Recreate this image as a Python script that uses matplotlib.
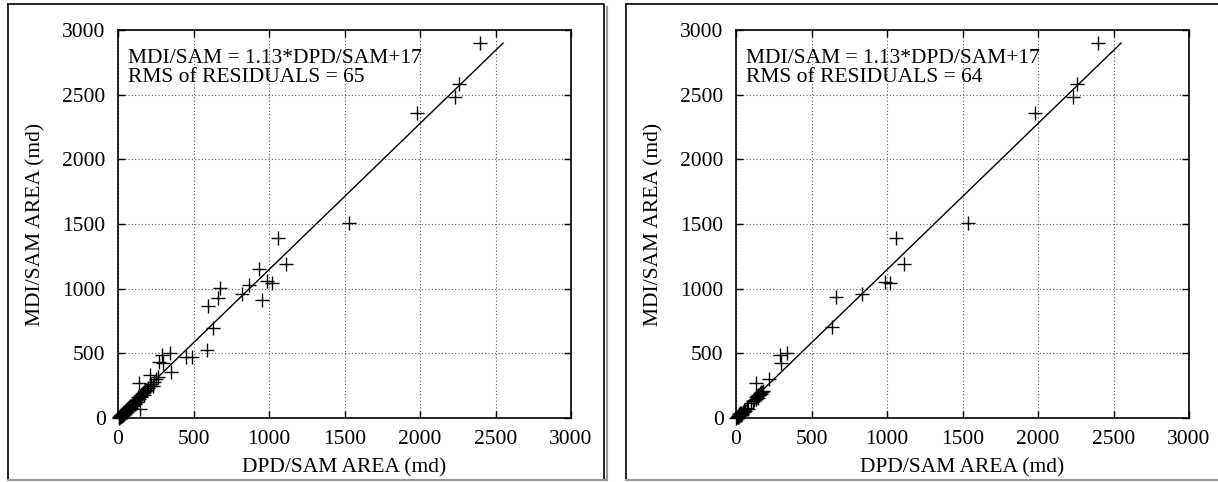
import matplotlib
matplotlib.use("Agg")
import matplotlib.pyplot as plt
from matplotlib.lines import Line2D

plt.rcParams['font.family'] = ['Liberation Serif', 'DejaVu Serif']

# ---- data ----
left_x = [5, 8, 10, 12, 15, 18, 20, 22, 25, 28, 30, 32, 35, 38, 40, 42, 45, 48, 50, 55,
          58, 60, 65, 70, 75, 80, 85, 90, 95, 100, 105, 110, 115, 120, 125, 130, 135, 140,
          145, 150, 155, 160, 165, 170, 175, 180, 190, 200, 210, 220, 230, 240, 250,
          139, 146, 212, 265, 298, 291, 344, 351, 272, 450, 490, 589, 596, 629, 662, 675,
          821, 868, 934, 954, 987, 1020, 1060, 1112, 1530, 1980, 2232, 2255, 2397]
left_y = [3, 10, 5, 15, 8, 20, 12, 25, 18, 30, 22, 35, 28, 42, 30, 48, 38, 55, 45, 60,
          50, 68, 58, 75, 65, 90, 80, 100, 92, 110, 120, 105, 130, 140, 125, 150, 160, 145,
          170, 175, 165, 185, 195, 180, 200, 210, 220, 230, 250, 260, 245, 280, 300,
          271, 70, 333, 317, 425, 487, 502, 356, 433, 472, 472, 526, 866, 696, 928, 1005,
          959, 1029, 1152, 913, 1060, 1044, 1392, 1191, 1508, 2355, 2482, 2583, 2900]

right_x = [3, 6, 10, 12, 15, 18, 20, 22, 25, 28, 30, 35, 40, 45, 50, 55, 60, 70, 80,
           100, 110, 120, 130, 135, 140, 145, 150, 155, 160, 165, 170, 180, 146, 166,
           132, 219, 298, 291, 338, 636, 662, 834, 987, 1020, 1060, 1112, 1536, 1980,
           2232, 2255, 2397]
right_y = [2, 8, 5, 14, 10, 22, 15, 28, 20, 35, 25, 40, 32, 50, 45, 62, 55, 78, 70,
           115, 130, 140, 150, 160, 170, 155, 180, 175, 190, 185, 200, 205, 178, 201,
           271, 302, 425, 487, 505, 704, 936, 959, 1052, 1044, 1392, 1191, 1508, 2355,
           2482, 2583, 2900]

fit_x = [0, 2550]
slope, intercept = 1.13, 17
panels = [
    (left_x, left_y, "MDI/SAM = 1.13*DPD/SAM+17", "RMS of RESIDUALS = 65"),
    (right_x, right_y, "MDI/SAM = 1.13*DPD/SAM+17", "RMS of RESIDUALS = 64"),
]
ticks = [0, 500, 1000, 1500, 2000, 2500, 3000]
xlabel = "DPD/SAM AREA (md)"
ylabel = "MDI/SAM AREA (md)"

W, H = 1218, 482
fig = plt.figure(figsize=(W / 100, H / 100), dpi=100)


def fline(xp, yp, **kw):
    fig.lines.append(Line2D([x / W for x in xp], [1 - y / H for y in yp],
                            transform=fig.transFigure, **kw))


# panel frames (pixels)
frames = [(8, 4, 604, 480), (626, 4, 1230, 480)]
for (x0, y0, x1, y1) in frames:
    fline([x0, x1, x1], [y0, y0, y1], color='black', linewidth=1.2)
    fline([x0, x0], [y0, y1], color='black', linewidth=1.2)
    fline([x0, x1 + 3], [y1, y1], color='0.6', linewidth=1.5)
    fline([x1 + 3, x1 + 3], [y0 + 3, y1], color='0.6', linewidth=1.5)

FS = 15.5
axes_px = [(118, 30, 571, 418), (736, 30, 1189, 418)]
for (xs, ys, t1, t2), (ax0, ay0, ax1, ay1) in zip(panels, axes_px):
    ax = fig.add_axes([ax0 / W, 1 - ay1 / H, (ax1 - ax0) / W, (ay1 - ay0) / H])
    ax.set_xlim(0, 3000)
    ax.set_ylim(0, 3000)
    ax.set_xticks(ticks)
    ax.set_yticks(ticks)
    ax.grid(True, linestyle=(0, (1, 2)), color='0.35', linewidth=0.8)
    ax.set_axisbelow(True)
    ax.tick_params(direction='in', length=5, width=1, top=True, right=True,
                   labelsize=FS, pad=9)
    for s in ax.spines.values():
        s.set_linewidth(1.2)
    ax.plot(fit_x, [slope * v + intercept for v in fit_x], color='black', linewidth=1)
    ax.plot(xs, ys, linestyle='none', marker='+', markersize=10, mew=1.0,
            color='black', clip_on=False)
    ax.text(0.022, 0.915, t1, transform=ax.transAxes, fontsize=FS, va='baseline', ha='left')
    ax.text(0.022, 0.866, t2, transform=ax.transAxes, fontsize=FS, va='baseline', ha='left')
    ax.set_xlabel(xlabel, fontsize=FS, labelpad=6)
    ax.set_ylabel(ylabel, fontsize=FS, labelpad=12)

fig.savefig("out.png", dpi=100)
